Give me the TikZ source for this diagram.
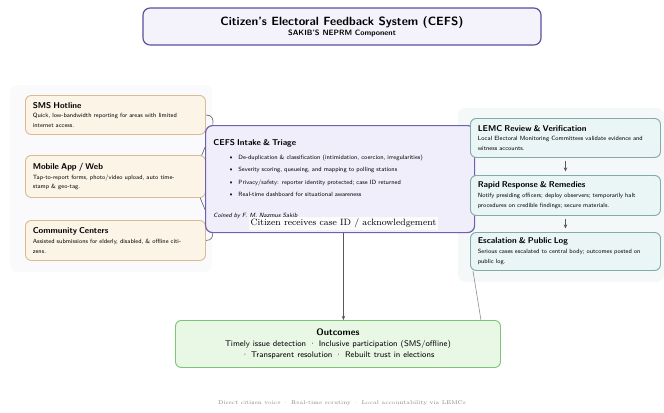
\documentclass[tikz,border=0pt]{standalone}
\usetikzlibrary{arrows.meta,backgrounds}

\definecolor{titleline}{HTML}{5B4E9E}
\definecolor{titlefill}{HTML}{F4F3FC}
\definecolor{srcline}{HTML}{D9BC94}
\definecolor{srcfill}{HTML}{FDF4E8}
\definecolor{intakeline}{HTML}{6C62B0}
\definecolor{intakefill}{HTML}{EFEEFA}
\definecolor{lemcline}{HTML}{82AAAA}
\definecolor{lemcfill}{HTML}{EAF5F5}
\definecolor{outcline}{HTML}{7DC477}
\definecolor{outcfill}{HTML}{E9F8E5}
\definecolor{leftpanel}{HTML}{FAFAFC}
\definecolor{rightpanel}{HTML}{F5F8F8}

\newcommand{\boxhead}[1]{{\bfseries\fontsize{7.2}{9}\selectfont #1}}
\newcommand{\bul}{\hspace*{13pt}\textbullet\hspace{4pt}}

\begin{document}
\begin{tikzpicture}[x=0.03cm,y=-0.03cm,
  box/.style={draw,rounded corners=5pt,line width=0.8pt,anchor=north west,align=left,
    inner xsep=0.22cm,font=\sffamily\fontsize{5.2}{8.5}\selectfont},
  srcbox/.style={box,draw=srcline,fill=srcfill,text width=4.96cm,minimum width=5.4cm},
  lemcbox/.style={box,draw=lemcline,fill=lemcfill,text width=5.26cm,minimum width=5.7cm},
  flow/.style={-{Stealth[length=3.5pt,width=3pt]},draw=black!65,line width=0.5pt},
  link/.style={draw=black!45,line width=0.5pt},
  ack/.style={fill=white,fill opacity=0.85,text opacity=1,inner sep=1.5pt,
    font=\rmfamily\fontsize{7.8}{9}\selectfont}]
  \useasboundingbox (0,0) rectangle (664,412);

  \node[draw=titleline,fill=titlefill,line width=1pt,rounded corners=6pt,minimum width=11.94cm,
    minimum height=1.11cm,align=center,font=\sffamily\bfseries\fontsize{6.6}{8.5}\selectfont] (title) at (342,26.5)
    {{\fontsize{10.2}{10}\selectfont Citizen's Electoral Feedback System (CEFS)}\\SAKIB'S NEPRM Component};

  \node[srcbox,minimum height=1.17cm] (sms) at (25,95)
    {\boxhead{SMS Hotline}\\Quick, low-bandwidth reporting for areas with limited\\internet access.};
  \node[srcbox,minimum height=1.26cm] (app) at (25,155)
    {\boxhead{Mobile App / Web}\\Tap-to-report forms, photo/video upload, auto time-\\stamp \& geo-tag.};
  \node[srcbox,minimum height=1.2cm] (centers) at (25,220)
    {\boxhead{Community Centers}\\Assisted submissions for elderly, disabled, \& offline citi-\\zens.};

  \node[box,draw=intakeline,fill=intakefill,line width=1pt,rounded corners=6pt,text width=7.6cm,
    minimum width=8.07cm,minimum height=3.21cm] (intake) at (205,125)
    {\boxhead{CEFS Intake \& Triage}\\[3.5pt]
     \bul De-duplication \& classification (intimidation, coercion, irregularities)\\[2.1pt]
     \bul Severity scoring, queueing, and mapping to polling stations\\[2.1pt]
     \bul Privacy/safety: reporter identity protected; case ID returned\\[2.1pt]
     \bul Real-time dashboard for situational awareness\\[9.5pt]
     \textit{Coined by F. M. Nazmus Sakib}};

  \node[lemcbox,minimum height=1.17cm] (lemc) at (470,118)
    {\boxhead{LEMC Review \& Verification}\\Local Electoral Monitoring Committees validate evidence and\\witness accounts.};
  \node[lemcbox,minimum height=1.2cm] (rapid) at (470,175)
    {\boxhead{Rapid Response \& Remedies}\\Notify presiding officers; deploy observers; temporarily halt\\procedures on credible findings; secure materials.};
  \node[lemcbox,minimum height=1.14cm] (escal) at (470,232)
    {\boxhead{Escalation \& Public Log}\\Serious cases escalated to central body; outcomes posted on\\public log.};

  \node[box,draw=outcline,fill=outcfill,align=center,minimum width=9.75cm,minimum height=1.41cm,
    font=\sffamily\fontsize{7}{9.4}\selectfont] (outcomes) at (175,320)
    {{\bfseries\fontsize{8}{9}\selectfont Outcomes}\\Timely issue detection · Inclusive participation (SMS/offline)\\· Transparent resolution · Rebuilt trust in elections};

  \node[font=\rmfamily\fontsize{4.6}{6}\selectfont,text=black!50] (footer) at (342,403)
    {Direct citizen voice · Real-time scrutiny · Local accountability via LEMCs};

  \begin{scope}[on background layer]
    \fill[leftpanel,rounded corners=6pt] (10,85) rectangle (212,272);
    \fill[rightpanel,rounded corners=6pt] (458,108) rectangle (664,282);
    \draw[flow] (sms.east) to[out=0,in=180] (intake.west);
    \draw[flow] (app.east) to[out=0,in=180] (intake.west);
    \draw[flow] (centers.east) to[out=0,in=180] (intake.west);
  \end{scope}

  \draw[flow,shorten <=3pt,shorten >=3pt] (lemc) -- (rapid);
  \draw[flow,shorten <=3pt,shorten >=3pt] (rapid) -- (escal);
  \draw[flow] ([xshift=0.1cm]intake.south) -- node[ack,pos=0,yshift=0.3cm] {Citizen receives case ID / acknowledgement}
    ([xshift=0.1cm]intake.south |- outcomes.north);
  \draw[link] ([xshift=0.09cm]escal.south west) -- ([xshift=-0.6cm]outcomes.north east);
\end{tikzpicture}
\end{document}
